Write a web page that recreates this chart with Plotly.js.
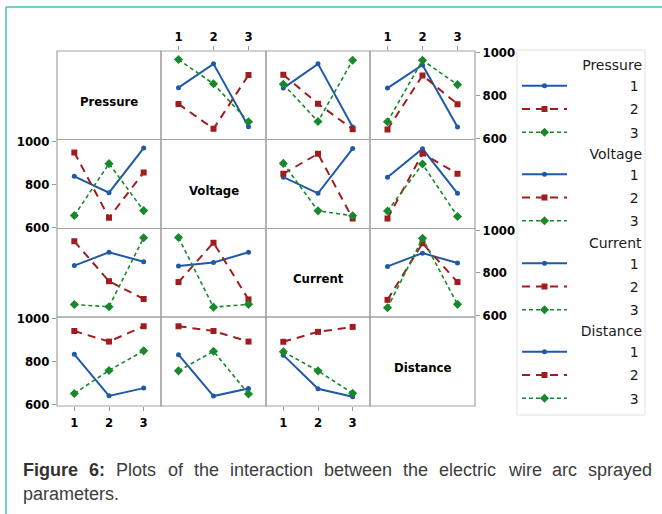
<!DOCTYPE html>
<html><head><meta charset="utf-8">
<script src="https://cdn.plot.ly/plotly-3.0.1.min.js"></script>
<style>html,body{margin:0;padding:0;background:#fff;overflow:hidden}#chart{width:662px;height:514px}</style>
</head><body><div id="chart"></div>
<script>
// ---- data ----
const factors = ["Pressure", "Voltage", "Current", "Distance"];
const levels = [1, 2, 3];
const levelNames = ["1", "2", "3"];
const yTickVals = [600, 800, 1000];
const yTickText = ["600", "800", "1000"];
// mean response: rows = levels of first factor, columns = levels of second factor
const pressureVoltage  = [[836, 947, 654], [760, 644, 895], [967, 854, 677]];
const pressureCurrent  = [[834, 947, 652], [896, 761, 642], [852, 678, 964]];
const pressureDistance = [[834, 942, 652], [641, 893, 759], [677, 964, 850]];
const voltageCurrent   = [[832, 757, 965], [848, 941, 640], [896, 676, 653]];
const voltageDistance  = [[832, 964, 757], [640, 942, 848], [675, 893, 650]];
const currentDistance  = [[830, 892, 846], [674, 938, 757], [637, 961, 653]];
const captionBold = "Figure 6:";
const captionText = "Plots of the interaction between the electric wire arc sprayed parameters.";

// ---- layout geometry (pixels) ----
const W = 662, H = 514;
const colEdges = [57, 161, 266, 370, 475];
const rowEdges = [51, 139.5, 228.5, 317, 406];
const yRange = [594, 1007];
const px = v => v / W, py = v => 1 - v / H;

const pairTables = {
  "0-1": pressureVoltage, "0-2": pressureCurrent, "0-3": pressureDistance,
  "1-2": voltageCurrent, "1-3": voltageDistance, "2-3": currentDistance
};
function table(i, j) {
  if (i < j) return pairTables[i + "-" + j];
  const t = pairTables[j + "-" + i];
  return levels.map((_, a) => levels.map((_, b) => t[b][a]));
}

const styles = [
  {color: "#1f5aa8", dash: "solid", width: 2, symbol: "circle", size: 5},
  {color: "#a01d1f", dash: "8px,6px", width: 2, symbol: "square", size: 6},
  {color: "#17892a", dash: "4px,3px", width: 1.6, symbol: "diamond", size: 7}
];
const tickFont = {family: "DejaVu Sans Condensed", size: 13, color: "#000", weight: "bold"};

const traces = [];
const layout = {
  width: W, height: H, margin: {l: 0, r: 0, t: 0, b: 0},
  paper_bgcolor: "#fff", plot_bgcolor: "#fff", showlegend: true,
  shapes: [], annotations: []
};

// legend frame
layout.shapes.push({type: "rect", xref: "paper", yref: "paper",
  x0: px(517), x1: px(645), y0: py(415), y1: py(50), line: {color: "#e2e2e2", width: 1}, layer: "below"});

for (let i = 0; i < 4; i++) {
  for (let j = 0; j < 4; j++) {
    const k = i * 4 + j + 1;
    // cell border
    layout.shapes.push({type: "rect", xref: "paper", yref: "paper",
      x0: px(colEdges[j]), x1: px(colEdges[j + 1]), y0: py(rowEdges[i + 1]), y1: py(rowEdges[i]),
      line: {color: "#a3a3a3", width: 1.2}, layer: "above"});
    if (i === j) {
      layout.annotations.push({xref: "paper", yref: "paper", showarrow: false,
        xanchor: "center", yanchor: "middle",
        x: px((colEdges[j] + colEdges[j + 1]) / 2), y: py((rowEdges[i] + rowEdges[i + 1]) / 2 + 6),
        text: "<b>" + factors[i] + "</b>", font: {family: "DejaVu Sans Condensed", size: 13, color: "#000"}});
      continue;
    }
    const topX = i === 0 && (j === 1 || j === 3);
    const botX = i === 3 && (j === 0 || j === 2);
    const leftY = j === 0 && (i === 1 || i === 3);
    const rightY = j === 3 && (i === 0 || i === 2);
    layout["xaxis" + k] = {
      domain: [px(colEdges[j]), px(colEdges[j + 1])], anchor: "y" + k,
      range: [0.5, 3.5], tickvals: levels, ticktext: levelNames,
      showgrid: false, zeroline: false, showline: false, fixedrange: true,
      showticklabels: topX || botX, side: topX ? "top" : "bottom",
      ticks: (topX || botX) ? "outside" : "", ticklen: 4, tickcolor: "#999", tickwidth: 1,
      tickfont: tickFont
    };
    layout["yaxis" + k] = {
      domain: [py(rowEdges[i + 1]), py(rowEdges[i])], anchor: "x" + k,
      range: yRange, tickvals: yTickVals, ticktext: yTickText,
      showgrid: false, zeroline: false, showline: false, fixedrange: true,
      showticklabels: leftY || rightY, side: rightY ? "right" : "left",
      ticks: (leftY || rightY) ? "outside" : "", ticklen: 4, tickcolor: "#999", tickwidth: 1,
      tickfont: tickFont
    };
    const t = table(i, j);
    const firstCol = (i === 0 ? 1 : 0);
    levels.forEach((lv, l) => {
      const s = styles[l];
      traces.push({
        type: "scatter", mode: "lines+markers", x: levels, y: t[l],
        xaxis: "x" + k, yaxis: "y" + k,
        name: "\u00a0".repeat(13) + levelNames[l],
        legend: i === 0 ? "legend" : "legend" + (i + 1),
        legendgroup: "g" + i + "-" + l,
        showlegend: j === firstCol,
        line: {color: s.color, dash: s.dash, width: s.width},
        marker: {color: s.color, symbol: s.symbol, size: s.size},
        hoverinfo: "skip"
      });
    });
  }
  const lkey = i === 0 ? "legend" : "legend" + (i + 1);
  layout[lkey] = {
    x: px(517), y: py(rowEdges[i] + 1), xanchor: "left", yanchor: "top",
    bgcolor: "rgba(0,0,0,0)", borderwidth: 0,
    itemwidth: 45, tracegroupgap: 2, itemclick: false, itemdoubleclick: false,
    title: {text: factors[i], side: "top right", font: {family: "DejaVu Sans", size: 14, color: "#1a1a1a"}},
    font: {family: "DejaVu Sans", size: 14, color: "#1a1a1a"}
  };
}

// teal frame
layout.shapes.push({type: "line", xref: "paper", yref: "paper", x0: px(6), x1: 1, y0: py(7), y1: py(7), line: {color: "#3fc4b0", width: 1.5}});
layout.shapes.push({type: "line", xref: "paper", yref: "paper", x0: px(6), x1: px(6), y0: py(7), y1: 0, line: {color: "#3fc4b0", width: 1.5}});

// justified caption
const cv = document.createElement("canvas").getContext("2d");
const capSize = 18, capFam = "Liberation Sans";
const words1 = [];
captionBold.split(" ").forEach(w => words1.push({w, b: true}));
const restWords = captionText.split(" ");
const lastWord = restWords.pop();
restWords.forEach(w => words1.push({w, b: false}));
const widths = words1.map(o => { cv.font = (o.b ? "bold " : "") + capSize + "px '" + capFam + "'"; return cv.measureText(o.w).width; });
const lineL = 22, lineR = 651;
const gap = (lineR - lineL - widths.reduce((a, b) => a + b, 0)) / (words1.length - 1);
let cx = lineL;
words1.forEach((o, n) => {
  layout.annotations.push({xref: "paper", yref: "paper", showarrow: false, xanchor: "left", yanchor: "middle",
    x: px(cx), y: py(470), text: o.b ? "<b>" + o.w + "</b>" : o.w, borderpad: 0,
    font: {family: capFam, size: capSize, color: o.b ? "#333" : "#3c3c3c"}});
  cx += widths[n] + gap;
});
layout.annotations.push({xref: "paper", yref: "paper", showarrow: false, xanchor: "left", yanchor: "middle",
  x: px(lineL), y: py(494), text: lastWord, borderpad: 0,
  font: {family: capFam, size: capSize, color: "#3c3c3c"}});

Plotly.newPlot("chart", traces, layout, {staticPlot: true, displayModeBar: false});
</script></body></html>
